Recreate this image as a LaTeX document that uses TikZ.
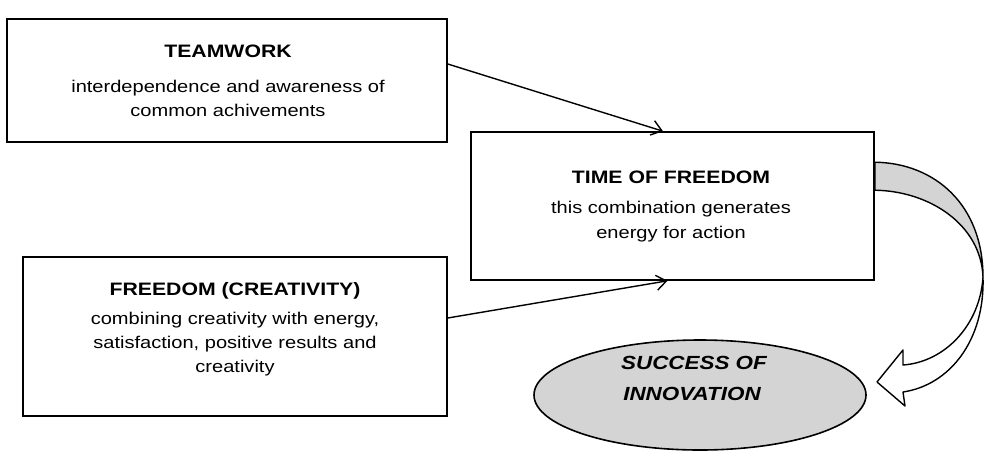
\documentclass[tikz,border=0pt]{standalone}
\usepackage{fontspec}
\setmainfont{Liberation Sans}[FakeStretch=1.18]
\usetikzlibrary{arrows.meta,shapes.geometric}
\definecolor{shade}{HTML}{D4D4D4}
\begin{document}
\begin{tikzpicture}[x=1pt,y=-1pt,
  box/.style={draw,line width=1.6pt,fill=white,inner sep=0pt},
  ttl/.style={anchor=base,inner sep=0pt,font=\fontsize{18}{22}\selectfont\bfseries},
  txt/.style={anchor=base,inner sep=0pt,font=\fontsize{17}{22}\selectfont},
  oval/.style={anchor=base,inner sep=0pt,font=\fontsize{19}{24}\selectfont\bfseries\itshape},
  arr/.style={line width=1.4pt,-{Straight Barb[length=10pt,width=15pt,line width=1.4pt]}},
  rib/.style={line width=1.4pt,line join=round}]
\useasboundingbox (0,0) rectangle (989,459);
% boxes
\node[box,minimum width=440pt,minimum height=123pt] (tw) at (227,80.5) {};
\node[box,minimum width=403pt,minimum height=148pt] (tf) at (672.5,206) {};
\node[box,minimum width=424pt,minimum height=159pt] (fr) at (235,336.5) {};
\node[draw,ellipse,line width=1.6pt,fill=shade,inner sep=0pt,minimum width=332pt,minimum height=110pt] (su) at (700,395) {};
% texts
\node[ttl] (tw1) at (228,57) {TEAMWORK};
\node[txt] (tw2) at (228,92) {interdependence and awareness of};
\node[txt] (tw3) at (228,116) {common achivements};
\node[ttl] (tf1) at (671,183) {TIME OF FREEDOM};
\node[txt] (tf2) at (671,213) {this combination generates};
\node[txt] (tf3) at (671,238) {energy for action};
\node[ttl] (fr1) at (235,295) {FREEDOM (CREATIVITY)};
\node[txt] (fr2) at (235,324) {combining creativity with energy,};
\node[txt] (fr3) at (235,348) {satisfaction, positive results and};
\node[txt] (fr4) at (235,372) {creativity};
\node[oval] (su1) at (694,369) {SUCCESS OF};
\node[oval] (su2) at (692,400) {INNOVATION};
% straight connectors
\coordinate (s1) at ([yshift=16.5pt]tw.east);
\coordinate (t1) at ([xshift=-9.5pt]tf.north);
\coordinate (s2) at ([yshift=18.5pt]fr.east);
\coordinate (t2) at ([xshift=-5pt]tf.south);
\draw[arr] (s1) -- (t1);
\draw[arr] (s2) -- (t2);
% curved ribbon arrow
\coordinate (r1) at ([yshift=-31pt]tf.north east);
\coordinate (r2) at ([yshift=-59pt]tf.north east);
\coordinate (rx) at (983,277);
\coordinate (h1) at (903,365);
\coordinate (h2) at (903,350);
\coordinate (hp) at (877,382);
\coordinate (h3) at (905,406);
\coordinate (h4) at (903,392);
\draw[rib,fill=shade] (r1) .. controls (935,163) and (983,205) .. (rx)
   .. controls (981,225) and (930,191) .. (r2) -- cycle;
\draw[rib,fill=white] (h1) -- (h2) -- (hp) -- (h3) -- (h4)
   .. controls (950,385) and (985,340) .. (rx)
   .. controls (980,325) and (945,362) .. (h1) -- cycle;
\end{tikzpicture}
\end{document}
